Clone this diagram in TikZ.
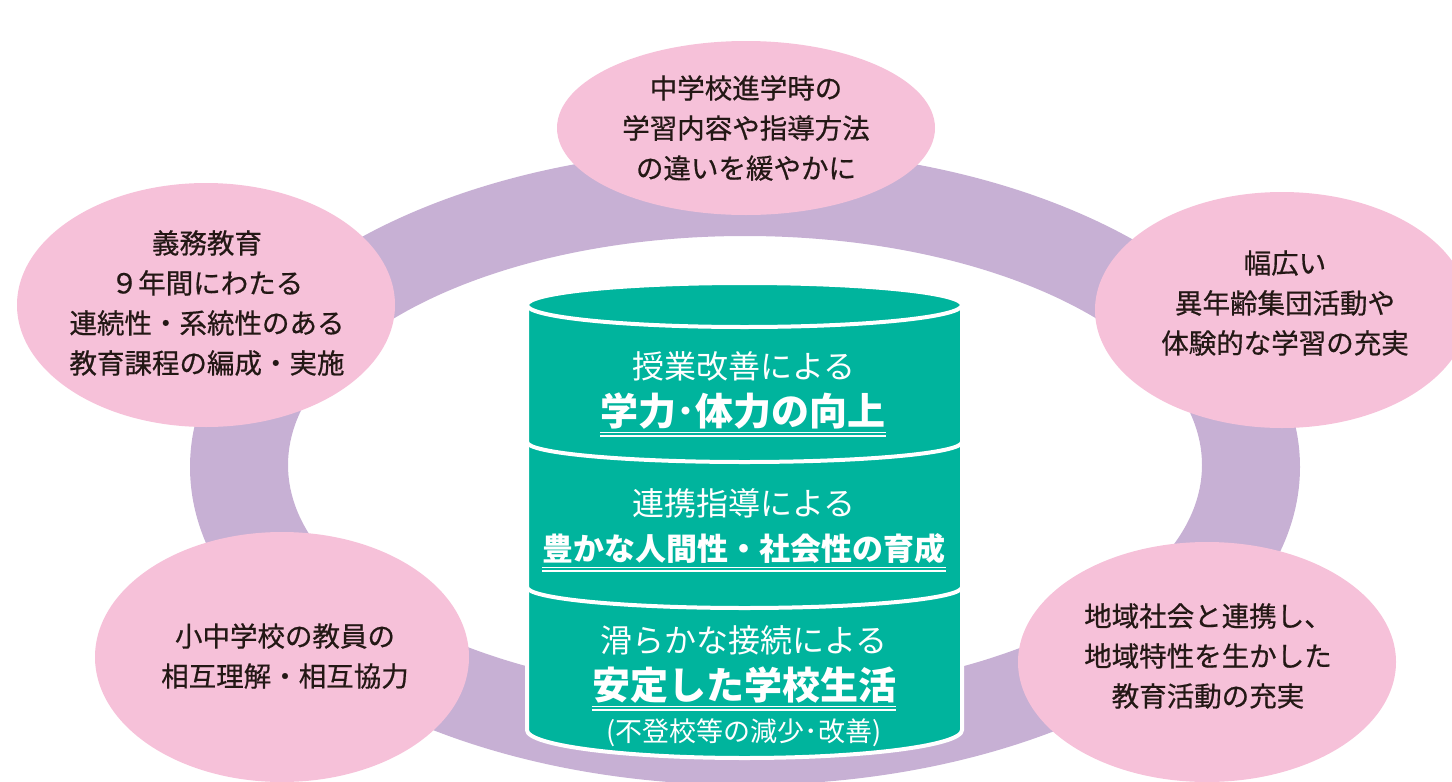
\documentclass[tikz,border=0pt]{standalone}
\usepackage{fontspec}
\newfontfamily\jp{Noto Sans CJK JP}
\newfontfamily\jpm[FakeBold=0.6]{Noto Sans CJK JP}
\definecolor{ringc}{HTML}{C7B0D4}
\definecolor{pinkc}{HTML}{F6C1D9}
\definecolor{tealc}{HTML}{00B49D}
\definecolor{textc}{HTML}{231815}
\tikzset{
  ptext/.style={font=\jpm\fontsize{27.5}{40}\selectfont, text=textc, align=center, inner sep=0pt},
  wreg/.style={font=\jp\fontsize{32}{36}\selectfont, text=white, inner sep=0pt},
  wbold/.style={font=\jp\bfseries, text=white, inner sep=0pt},
  uline/.style={draw=white, line width=1.3pt},
  sepline/.style={draw=white, line width=4pt}
}
\begin{document}
\begin{tikzpicture}[x=1pt,y=-1pt]
\useasboundingbox (0,0) rectangle (1452,782);
\clip (0,0) rectangle (1452,782);
% ring
\fill[ringc, even odd rule] (745,467) ellipse [x radius=555, y radius=318]
  (745,465) ellipse [x radius=457, y radius=229];
% pink ellipses
\fill[pinkc] (746,128) ellipse [x radius=189, y radius=87];
\fill[pinkc] (206,305) ellipse [x radius=189, y radius=122];
\fill[pinkc] (1282,310) ellipse [x radius=187, y radius=118];
\fill[pinkc] (282,657) ellipse [x radius=187, y radius=125];
\fill[pinkc] (1207,662) ellipse [x radius=189, y radius=120];
% texts in pink ellipses
\node[ptext] (t1) at (746,128) {中学校進学時の\\学習内容や指導方法\\の違いを緩やかに};
\node[ptext] (t2) at (207,303) {義務教育\\９年間にわたる\\連続性・系統性のある\\教育課程の編成・実施};
\node[ptext] (t3) at (1285,303) {幅広い\\異年齢集団活動や\\体験的な学習の充実};
\node[ptext] (t4) at (285,656) {小中学校の教員の\\相互理解・相互協力};
\node[ptext] (t5) at (1208,656) {地域社会と連携し、\\地域特性を生かした\\教育活動の充実};
% cylinder
\path[fill=tealc, draw=white, line width=4pt]
  (527,305) -- (527,730) arc[start angle=180, end angle=0, x radius=217.5, y radius=28]
  -- (962,305) arc[start angle=0, end angle=-180, x radius=217.5, y radius=22] -- cycle;
\draw[sepline] (527,305) arc[start angle=180, end angle=0, x radius=217.5, y radius=22];
\draw[sepline] (527,442) arc[start angle=180, end angle=0, x radius=217.5, y radius=20];
\draw[sepline] (527,587) arc[start angle=180, end angle=0, x radius=217.5, y radius=21];
% layer texts
\node[wreg] (a1) at (744,366) {授業改善による};
\node[wbold, font=\jp\bfseries\fontsize{38}{40}\selectfont] (b1) at (743,411) {学力･体力の向上};
\node[wreg] (a2) at (744,503) {連携指導による};
\node[wbold, font=\jp\bfseries\fontsize{31}{34}\selectfont] (b2) at (744,549) {豊かな人間性・社会性の育成};
\node[wreg] (a3) at (744,640) {滑らかな接続による};
\node[wbold, font=\jp\bfseries\fontsize{38}{40}\selectfont] (b3) at (744,685) {安定した学校生活};
\node[wreg, font=\jp\fontsize{27}{30}\selectfont] (c3) at (744,733) {(不登校等の減少･改善)};
% double underlines
\draw[uline] ([yshift=-3pt]b1.south west) -- ([yshift=-3pt]b1.south east);
\draw[uline] ([yshift=-6.5pt]b1.south west) -- ([yshift=-6.5pt]b1.south east);
\draw[uline] ([yshift=-3pt]b2.south west) -- ([yshift=-3pt]b2.south east);
\draw[uline] ([yshift=-6.5pt]b2.south west) -- ([yshift=-6.5pt]b2.south east);
\draw[uline] ([yshift=-3pt]b3.south west) -- ([yshift=-3pt]b3.south east);
\draw[uline] ([yshift=-6.5pt]b3.south west) -- ([yshift=-6.5pt]b3.south east);
\end{tikzpicture}
\end{document}
